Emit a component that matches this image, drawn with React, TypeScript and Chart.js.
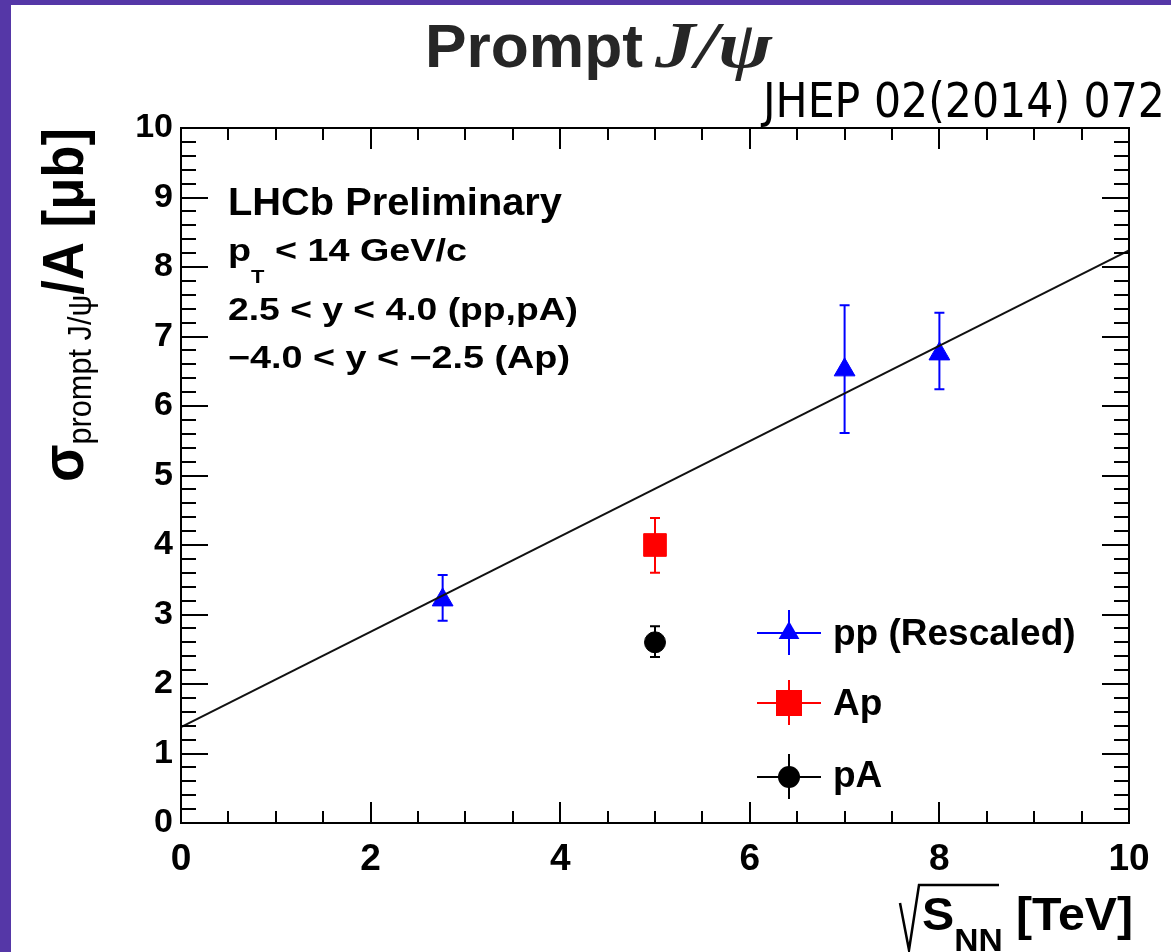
import React, { useEffect, useRef } from 'react';
import { Chart, registerables } from 'chart.js';

Chart.register(...registerables);

const W = 1171;
const H = 952;

// axis ticks
const xMajorTicks = [0, 2, 4, 6, 8, 10];
const yMajorTicks = [0, 1, 2, 3, 4, 5, 6, 7, 8, 9, 10];
const xMinorStep = 0.5;
const yMinorStep = 0.2;

// data: pp (rescaled)
const ppX = [2.76, 7.0, 8.0];
const ppY = [3.21, 6.52, 6.75];
const ppErrUp = [0.36, 0.93, 0.59];
const ppErrDown = [0.3, 0.91, 0.51];

// data: Ap
const apX = [5.0];
const apY = [4.0];
const apErrUp = [0.39];
const apErrDown = [0.4];

// data: pA
const paX = [5.0];
const paY = [2.6];
const paErrUp = [0.23];
const paErrDown = [0.21];

// linear fit
const fitX = [0, 10];
const fitY = [1.38, 8.24];

const seriesLabels = ['pp (Rescaled)', 'Ap', 'pA'];
const seriesColors = ['#0000ff', '#ff0000', '#000000'];
const seriesStyles = ['triangle', 'rect', 'circle'];

const SANS = '"Liberation Sans", Arial, Helvetica, sans-serif';

type Run = { text: string; font: string; dy?: number; color?: string };

function drawRuns(
  ctx: CanvasRenderingContext2D,
  x: number,
  y: number,
  runs: Run[],
  opts: { width?: number; sx?: number; sy?: number; rotate?: number; color?: string } = {}
) {
  ctx.save();
  ctx.translate(x, y);
  if (opts.rotate) ctx.rotate(opts.rotate);
  let total = 0;
  const widths: number[] = [];
  runs.forEach((r) => {
    ctx.font = r.font;
    const w = ctx.measureText(r.text).width;
    widths.push(w);
    total += w;
  });
  const sx = opts.width ? opts.width / total : opts.sx || 1;
  ctx.scale(sx, opts.sy || 1);
  ctx.textBaseline = 'alphabetic';
  ctx.textAlign = 'left';
  let cx = 0;
  runs.forEach((r, i) => {
    ctx.font = r.font;
    ctx.fillStyle = r.color || opts.color || '#000';
    ctx.fillText(r.text, cx, r.dy || 0);
    cx += widths[i];
  });
  ctx.restore();
}

function drawMarker(ctx: CanvasRenderingContext2D, style: string, x: number, y: number, size: number, color: string) {
  ctx.save();
  ctx.fillStyle = color;
  ctx.beginPath();
  if (style === 'triangle') {
    const r = size;
    ctx.moveTo(x, y - r);
    ctx.lineTo(x + r * Math.sin(Math.PI / 3), y + r / 2);
    ctx.lineTo(x - r * Math.sin(Math.PI / 3), y + r / 2);
    ctx.closePath();
  } else if (style === 'rect') {
    ctx.rect(x - size, y - size, size * 2, size * 2);
  } else {
    ctx.arc(x, y, size, 0, Math.PI * 2);
  }
  ctx.fill();
  ctx.restore();
}

const backgroundPlugin = {
  id: 'bgFrame',
  beforeDraw(chart: any) {
    const ctx = chart.ctx as CanvasRenderingContext2D;
    ctx.save();
    ctx.fillStyle = '#5537a7';
    ctx.fillRect(0, 0, W, H);
    ctx.fillStyle = '#ffffff';
    ctx.fillRect(11, 5, W - 11, H - 5);
    ctx.restore();
  },
};

const errorBarPlugin = {
  id: 'errorBars',
  beforeDatasetsDraw(chart: any) {
    const ctx = chart.ctx as CanvasRenderingContext2D;
    const xs = chart.scales.x;
    const ys = chart.scales.y;
    chart.data.datasets.forEach((ds: any) => {
      if (!ds.errUp) return;
      ctx.save();
      ctx.strokeStyle = ds.borderColor;
      ctx.lineWidth = 2;
      ds.data.forEach((p: any, i: number) => {
        const px = xs.getPixelForValue(p.x);
        const top = ys.getPixelForValue(p.y + ds.errUp[i]);
        const bot = ys.getPixelForValue(p.y - ds.errDown[i]);
        ctx.beginPath();
        ctx.moveTo(px, top);
        ctx.lineTo(px, bot);
        ctx.moveTo(px - 5, top);
        ctx.lineTo(px + 5, top);
        ctx.moveTo(px - 5, bot);
        ctx.lineTo(px + 5, bot);
        ctx.stroke();
      });
      ctx.restore();
    });
  },
};

const decorPlugin = {
  id: 'decor',
  afterDraw(chart: any) {
    const ctx = chart.ctx as CanvasRenderingContext2D;
    const xs = chart.scales.x;
    const ys = chart.scales.y;
    const { left, right, top, bottom } = chart.chartArea;

    // frame
    ctx.save();
    ctx.strokeStyle = '#000';
    ctx.lineWidth = 2;
    ctx.strokeRect(left, top, right - left, bottom - top);

    // x ticks (bottom & top, inward)
    const nx = Math.round((xs.max - xs.min) / xMinorStep);
    ctx.beginPath();
    for (let i = 0; i <= nx; i++) {
      const v = xs.min + i * xMinorStep;
      const major = xMajorTicks.some((t) => Math.abs(t - v) < 1e-6);
      const len = major ? 21 : 12;
      const px = Math.round(xs.getPixelForValue(v));
      ctx.moveTo(px, bottom);
      ctx.lineTo(px, bottom - len);
      ctx.moveTo(px, top);
      ctx.lineTo(px, top + len);
    }
    // y ticks (left & right, inward)
    const ny = Math.round((ys.max - ys.min) / yMinorStep);
    for (let i = 0; i <= ny; i++) {
      const v = ys.min + i * yMinorStep;
      const major = yMajorTicks.some((t) => Math.abs(t - v) < 1e-6);
      const len = major ? 27 : 15;
      const py = Math.round(ys.getPixelForValue(v));
      ctx.moveTo(left, py);
      ctx.lineTo(left + len, py);
      ctx.moveTo(right, py);
      ctx.lineTo(right - len, py);
    }
    ctx.stroke();
    ctx.restore();

    // title
    drawRuns(ctx, 425, 67, [{ text: 'Prompt', font: `bold 61px ${SANS}` }], { width: 218, color: '#262626' });
    drawRuns(ctx, 655, 67, [{ text: 'J/ψ', font: 'italic bold 66px "Liberation Serif", "Times New Roman", serif' }], {
      width: 117,
      color: '#262626',
    });
    drawRuns(ctx, 763, 117, [{ text: 'JHEP 02(2014) 072', font: '48px "DejaVu Sans", sans-serif' }], { width: 402 });

    // in-plot annotations
    drawRuns(ctx, 228, 215, [{ text: 'LHCb Preliminary', font: `bold 39px ${SANS}` }], { width: 334 });
    drawRuns(
      ctx,
      228,
      261,
      [
        { text: 'p', font: `bold 31px ${SANS}` },
        { text: 'T', font: `bold 18px ${SANS}`, dy: 22 },
        { text: ' < 14 GeV/c', font: `bold 31px ${SANS}` },
      ],
      { width: 239 }
    );
    drawRuns(ctx, 228, 320, [{ text: '2.5 < y < 4.0 (pp,pA)', font: `bold 31px ${SANS}` }], { width: 350 });
    drawRuns(ctx, 228, 368, [{ text: '\u22124.0 < y < \u22122.5 (Ap)', font: `bold 31px ${SANS}` }], { width: 342 });

    // y axis title (rotated)
    drawRuns(
      ctx,
      83,
      482,
      [
        { text: 'σ', font: `bold 50px ${SANS}` },
        { text: 'prompt J/ψ', font: `28px ${SANS}`, dy: 7 },
        { text: '/A [μb]', font: `bold 48px ${SANS}` },
      ],
      { rotate: -Math.PI / 2, width: 354, sy: 1.2 }
    );

    // x axis title
    ctx.save();
    ctx.strokeStyle = '#000';
    ctx.lineWidth = 2.5;
    ctx.lineJoin = 'miter';
    ctx.beginPath();
    ctx.moveTo(900, 903);
    ctx.lineTo(909, 950);
    ctx.lineTo(919, 885);
    ctx.lineTo(999, 885);
    ctx.stroke();
    ctx.restore();
    drawRuns(
      ctx,
      922,
      930,
      [
        { text: 'S', font: `bold 46px ${SANS}` },
        { text: 'NN', font: `bold 32px ${SANS}`, dy: 21 },
        { text: ' [TeV]', font: `bold 46px ${SANS}` },
      ],
      { width: 211 }
    );

    // legend
    const rowsY = [633, 703, 777];
    const baselines = [645, 715, 787];
    const markerSizes = [12, 13, 11];
    seriesLabels.forEach((label, i) => {
      const cy = rowsY[i];
      const cx = 789;
      ctx.save();
      ctx.strokeStyle = seriesColors[i];
      ctx.lineWidth = 2;
      ctx.beginPath();
      ctx.moveTo(757, cy);
      ctx.lineTo(821, cy);
      ctx.moveTo(cx, cy - 23);
      ctx.lineTo(cx, cy + 22);
      ctx.stroke();
      ctx.restore();
      drawMarker(ctx, seriesStyles[i], cx, cy, markerSizes[i], seriesColors[i]);
      drawRuns(ctx, 833, baselines[i], [{ text: label, font: `bold 37px ${SANS}` }], {});
    });
  },
};

export default function App() {
  const canvasRef = useRef<HTMLCanvasElement | null>(null);

  useEffect(() => {
    const canvas = canvasRef.current;
    if (!canvas) return;
    const toPts = (xs: number[], ys: number[]) => xs.map((x, i) => ({ x, y: ys[i] }));
    const chart = new Chart(canvas, {
      type: 'scatter',
      data: {
        datasets: [
          {
            type: 'line',
            label: 'fit',
            data: toPts(fitX, fitY),
            borderColor: '#111111',
            borderWidth: 2,
            pointRadius: 0,
            showLine: true,
            fill: false,
          } as any,
          {
            label: seriesLabels[0],
            data: toPts(ppX, ppY),
            errUp: ppErrUp,
            errDown: ppErrDown,
            pointStyle: 'triangle',
            radius: 12,
            backgroundColor: seriesColors[0],
            borderColor: seriesColors[0],
            borderWidth: 1,
          } as any,
          {
            label: seriesLabels[1],
            data: toPts(apX, apY),
            errUp: apErrUp,
            errDown: apErrDown,
            pointStyle: 'rect',
            radius: 16,
            backgroundColor: seriesColors[1],
            borderColor: seriesColors[1],
            borderWidth: 1,
          } as any,
          {
            label: seriesLabels[2],
            data: toPts(paX, paY),
            errUp: paErrUp,
            errDown: paErrDown,
            pointStyle: 'circle',
            radius: 10.5,
            backgroundColor: seriesColors[2],
            borderColor: seriesColors[2],
            borderWidth: 1,
          } as any,
        ],
      },
      options: {
        animation: false,
        responsive: false,
        devicePixelRatio: 1,
        layout: { padding: { left: 21, right: 42, top: 128, bottom: 69 } },
        plugins: {
          legend: { display: false },
          tooltip: { enabled: false },
          title: { display: false },
        },
        scales: {
          x: {
            type: 'linear',
            min: 0,
            max: 10,
            grid: { display: false, drawTicks: false },
            border: { display: false },
            ticks: {
              color: '#000',
              padding: 15,
              maxRotation: 0,
              font: { family: SANS, weight: 'bold', size: 37 },
              callback: (v: any) => String(v),
            },
            afterBuildTicks: (s: any) => {
              s.ticks = xMajorTicks.map((v) => ({ value: v }));
            },
            afterFit: (s: any) => {
              s.height = 60;
            },
          },
          y: {
            type: 'linear',
            min: 0,
            max: 10,
            grid: { display: false, drawTicks: false },
            border: { display: false },
            ticks: {
              color: '#000',
              padding: 8,
              font: { family: SANS, weight: 'bold', size: 34 },
              callback: (v: any) => String(v),
            },
            afterBuildTicks: (s: any) => {
              s.ticks = yMajorTicks.map((v) => ({ value: v }));
            },
            afterFit: (s: any) => {
              s.width = 160;
            },
          },
        },
      } as any,
      plugins: [backgroundPlugin, errorBarPlugin, decorPlugin],
    });
    return () => chart.destroy();
  }, []);

  return (
    <div style={{ position: 'absolute', left: 0, top: 0, width: W, height: H, overflow: 'hidden' }}>
      <canvas ref={canvasRef} width={W} height={H} style={{ display: 'block', width: W, height: H }} />
    </div>
  );
}
